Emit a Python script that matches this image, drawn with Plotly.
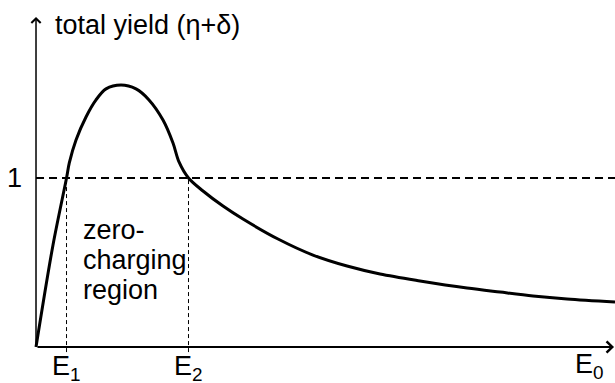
import plotly.graph_objects as go

# Curve data (energy in arbitrary units, total yield)
energy = [0.0, 2.94, 5.28, 5.76, 6.92, 8.65, 10.38, 12.11, 14.71, 17.30, 19.55,
          21.97, 23.70, 24.74, 26.38, 28.89, 32.35, 35.81, 41.87, 47.92, 53.81,
          59.52, 66.44, 74.57, 80.28, 85.99, 91.87, 100.17]
yield_total = [0.0, 0.604, 1.0, 1.089, 1.225, 1.361, 1.462, 1.527, 1.550, 1.527, 1.462,
               1.343, 1.207, 1.095, 1.0, 0.923, 0.834, 0.757, 0.639, 0.544, 0.479,
               0.432, 0.391, 0.349, 0.325, 0.302, 0.284, 0.266]

E1 = 5.28
E2 = 26.38
unity = 1.0
x_end = 100.0
y_top = 1.953
tick_labels = {"E1": "E<sub>1</sub>", "E2": "E<sub>2</sub>", "E0": "E<sub>0</sub>"}
region_lines = ["zero-", "charging", "region"]

FONT = "Liberation Sans, Arial, sans-serif"
FS = 27

fig = go.Figure()

# dashed unity line
fig.add_trace(go.Scatter(x=[0, 100.17], y=[unity, unity], mode="lines",
                         line=dict(color="black", width=2, dash="8px,5px"),
                         hoverinfo="skip", showlegend=False))
# dotted verticals
for ex in (E1, E2):
    fig.add_trace(go.Scatter(x=[ex, ex], y=[-0.03, unity], mode="lines",
                             line=dict(color="black", width=1, dash="4px,3px"),
                             hoverinfo="skip", showlegend=False))
# yield curve
fig.add_trace(go.Scatter(x=energy, y=yield_total, mode="lines",
                         line=dict(color="black", width=3, shape="spline", smoothing=0.9),
                         hoverinfo="skip", showlegend=False))

txt = dict(family=FONT, size=FS, color="black")
annotations = [
    # x axis arrow
    dict(x=x_end, y=0, ax=0, ay=0, xref="x", yref="y", axref="x", ayref="y",
         showarrow=True, arrowhead=4, arrowsize=1.1, arrowwidth=2, arrowcolor="black", text=""),
    # y axis arrow
    dict(x=0, y=y_top, ax=0, ay=0, xref="x", yref="y", axref="x", ayref="y",
         showarrow=True, arrowhead=4, arrowsize=1.2, arrowwidth=1.5, arrowcolor="black", text=""),
    dict(x=3.0, y=1.905, xref="x", yref="y", text="total yield (\u03b7+\u03b4)", showarrow=False,
         xanchor="left", yanchor="middle", font=txt),
    dict(x=-3.72, y=1.0, xref="x", yref="y", text="1", showarrow=False,
         xanchor="center", yanchor="middle", font=txt),
    dict(x=E1, y=-0.012, xref="x", yref="y", text=tick_labels["E1"], showarrow=False,
         xanchor="center", yanchor="top", font=txt),
    dict(x=E2, y=-0.012, xref="x", yref="y", text=tick_labels["E2"], showarrow=False,
         xanchor="center", yanchor="top", font=txt),
    dict(x=95.8, y=0.0, xref="x", yref="y", text=tick_labels["E0"], showarrow=False,
         xanchor="center", yanchor="top", font=txt),
]
for line_text, yy in zip(region_lines, [0.692, 0.515, 0.337]):
    annotations.append(dict(x=7.8, y=yy, xref="x", yref="y", text=line_text, showarrow=False,
                            xanchor="left", yanchor="middle", align="left", font=txt))

fig.update_layout(
    width=615, height=383,
    margin=dict(l=0, r=0, t=0, b=0),
    paper_bgcolor="white", plot_bgcolor="white",
    xaxis=dict(range=[-6.23, 100.17], visible=False, fixedrange=True),
    yaxis=dict(range=[-0.213, 2.053], visible=False, fixedrange=True),
    annotations=annotations,
    showlegend=False,
)

fig.write_html("out.html")
